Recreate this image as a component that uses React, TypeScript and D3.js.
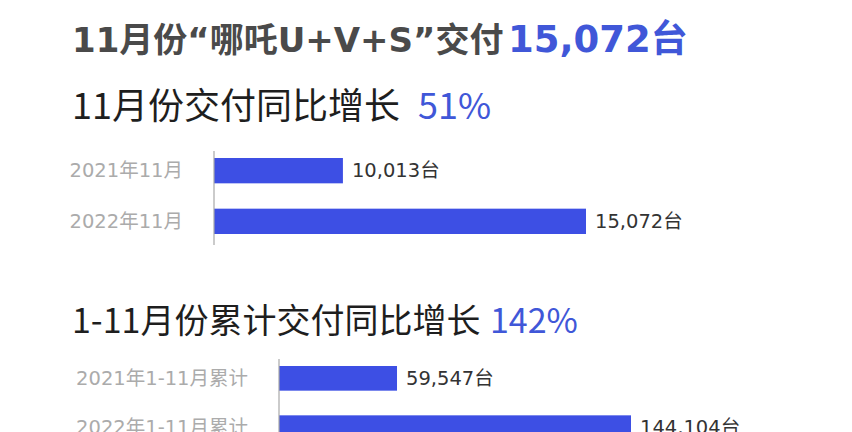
import React, { useRef, useEffect } from "react";
import * as d3 from "d3";

// November deliveries
const monthCats = ["2021年11月", "2022年11月"];
const monthValues = [10013, 15072];
// January–November cumulative deliveries
const ytdCats = ["2021年1-11月累计", "2022年1-11月累计"];
const ytdValues = [59547, 144104];

const headline = { text: "11月份“哪吒U+V+S”交付", value: "15,072台" };
const monthTitle = { text: "11月份交付同比增长", value: "51%" };
const ytdTitle = { text: "1-11月份累计交付同比增长", value: "142%" };

const CJK = "'Noto Sans CJK SC', 'Noto Sans', sans-serif";
const WIDE = "'DejaVu Sans', 'Noto Sans CJK SC', sans-serif";
const BAR = "#3d4fe4";
const BLUE = "#4057d8";

export default function App() {
    const svgRef = useRef(null);

    useEffect(() => {
        const width = 852;
        const height = 432;
        const svg = d3.select(svgRef.current).attr("width", width).attr("height", height);
        svg.selectAll("*").remove();
        svg.append("rect").attr("width", width).attr("height", height).attr("fill", "#fff");

        // headline
        const h = svg.append("text")
            .attr("x", 72)
            .attr("y", 52)
            .attr("font-family", WIDE)
            .attr("font-weight", 600);
        h.append("tspan").attr("font-size", 34).attr("fill", "#4a4a4a").text(headline.text);
        h.append("tspan").attr("x", 508).attr("font-size", 37).attr("fill", BLUE).text(headline.value);

        const addTitle = (t: { text: string; value: string }, y: number, size: number, valueX: number) => {
            const txt = svg.append("text")
                .attr("x", 72)
                .attr("y", y)
                .attr("font-family", CJK)
                .attr("font-size", size)
                .attr("font-weight", 400);
            txt.append("tspan").attr("fill", "#1e1e1e").text(t.text);
            txt.append("tspan").attr("x", valueX).attr("fill", BLUE).text(t.value);
        };

        addTitle(monthTitle, 119, 36, 418);
        addTitle(ytdTitle, 333, 34, 490);

        const drawBars = (
            cats: string[],
            values: number[],
            xStart: number,
            xEnd: number,
            floor: number,
            yRange: [number, number],
        ) => {
            const x = d3.scaleLinear()
                .domain([floor, d3.max(values) as number])
                .range([xStart, xEnd]);
            const y = d3.scaleBand<string>()
                .domain(cats)
                .range(yRange)
                .paddingInner(0.5)
                .paddingOuter(0);

            const g = svg.append("g");

            g.selectAll("rect.bar")
                .data(values)
                .join("rect")
                .attr("class", "bar")
                .attr("x", xStart)
                .attr("y", (_, i) => y(cats[i]) as number)
                .attr("width", (d) => x(d) - xStart)
                .attr("height", y.bandwidth())
                .attr("fill", BAR);

            const axis = g.append("g")
                .attr("transform", `translate(${xStart},0)`)
                .call(d3.axisLeft(y).tickSize(0).tickPadding(31));
            axis.select(".domain").remove();
            axis.selectAll("text")
                .attr("font-family", WIDE)
                .attr("font-size", 19.5)
                .attr("fill", "#ababab");

            g.append("line")
                .attr("x1", xStart)
                .attr("x2", xStart)
                .attr("y1", yRange[0] - 7)
                .attr("y2", yRange[1] + 11)
                .attr("stroke", "#a8a8a8")
                .attr("stroke-width", 1.2);

            g.selectAll("text.value")
                .data(values)
                .join("text")
                .attr("class", "value")
                .attr("x", (d) => x(d) + 9)
                .attr("y", (_, i) => (y(cats[i]) as number) + y.bandwidth() / 2)
                .attr("dy", "0.35em")
                .attr("font-family", WIDE)
                .attr("font-size", 19.5)
                .attr("fill", "#333")
                .text((d) => `${d3.format(",")(d)}台`);
        };

        drawBars(monthCats, monthValues, 214, 586, 7330, [158, 234]);
        drawBars(ytdCats, ytdValues, 279, 631, 16900, [366, 440]);
    }, []);

    return (
        <svg ref={svgRef} style={{ position: "absolute", left: 0, top: 0, display: "block" }}></svg>
    );
}
